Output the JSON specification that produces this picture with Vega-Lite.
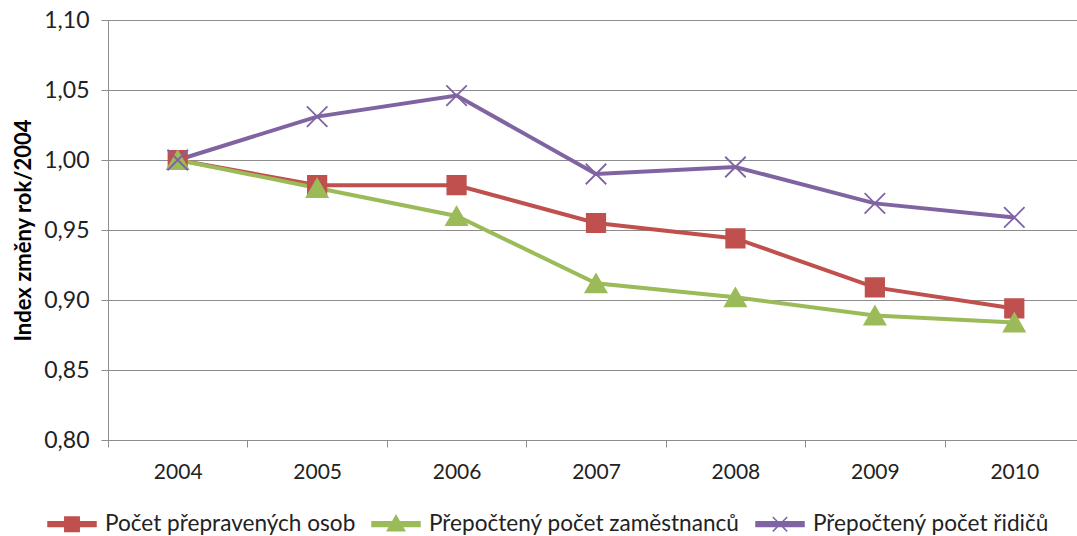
{
  "$schema": "https://vega.github.io/schema/vega-lite/v6.json",
  "autosize": {"type": "none"},
  "padding": {"left": 108, "top": 20, "right": 0, "bottom": 96},
  "width": 976,
  "height": 420,
  "background": "white",
  "config": {
    "font": "Lato",
    "view": {"stroke": null},
    "axis": {"labelFont": "Lato", "titleFont": "Lato", "labelColor": "#222222", "titleColor": "#000000"}
  },
  "data": {
    "values": [
      {"rok": "2004", "serie": "Počet přepravených osob", "index": 1.000},
      {"rok": "2005", "serie": "Počet přepravených osob", "index": 0.982},
      {"rok": "2006", "serie": "Počet přepravených osob", "index": 0.982},
      {"rok": "2007", "serie": "Počet přepravených osob", "index": 0.955},
      {"rok": "2008", "serie": "Počet přepravených osob", "index": 0.944},
      {"rok": "2009", "serie": "Počet přepravených osob", "index": 0.909},
      {"rok": "2010", "serie": "Počet přepravených osob", "index": 0.894},
      {"rok": "2004", "serie": "Přepočtený počet zaměstnanců", "index": 1.000},
      {"rok": "2005", "serie": "Přepočtený počet zaměstnanců", "index": 0.980},
      {"rok": "2006", "serie": "Přepočtený počet zaměstnanců", "index": 0.960},
      {"rok": "2007", "serie": "Přepočtený počet zaměstnanců", "index": 0.912},
      {"rok": "2008", "serie": "Přepočtený počet zaměstnanců", "index": 0.902},
      {"rok": "2009", "serie": "Přepočtený počet zaměstnanců", "index": 0.889},
      {"rok": "2010", "serie": "Přepočtený počet zaměstnanců", "index": 0.884},
      {"rok": "2004", "serie": "Přepočtený počet řidičů", "index": 1.000},
      {"rok": "2005", "serie": "Přepočtený počet řidičů", "index": 1.031},
      {"rok": "2006", "serie": "Přepočtený počet řidičů", "index": 1.046},
      {"rok": "2007", "serie": "Přepočtený počet řidičů", "index": 0.990},
      {"rok": "2008", "serie": "Přepočtený počet řidičů", "index": 0.995},
      {"rok": "2009", "serie": "Přepočtený počet řidičů", "index": 0.969},
      {"rok": "2010", "serie": "Přepočtený počet řidičů", "index": 0.959}
    ]
  },
  "encoding": {
    "x": {
      "field": "rok", "type": "nominal",
      "scale": {"type": "band", "paddingInner": 0, "paddingOuter": 0},
      "axis": {"title": null, "labelAngle": 0, "labelFontSize": 21, "labelPadding": 14, "tickBand": "extent", "tickSize": 7, "tickColor": "#8C8C8C", "domainColor": "#8C8C8C", "grid": false}
    },
    "y": {
      "field": "index", "type": "quantitative",
      "scale": {"domain": [0.8, 1.1], "zero": false, "nice": false},
      "axis": {
        "title": "Index změny rok/2004", "titleFontSize": 22, "titleFontWeight": "bold", "titlePadding": 8,
        "values": [0.8, 0.85, 0.9, 0.95, 1.0, 1.05, 1.1],
        "labelExpr": "replace(format(datum.value, '.2f'), '.', ',')",
        "labelFontSize": 23, "labelPadding": 12, "tickSize": 7, "tickColor": "#8C8C8C",
        "domainColor": "#8C8C8C", "grid": true, "gridColor": "#8C8C8C", "gridWidth": 1
      }
    }
  },
  "layer": [
    {
      "mark": {"type": "line", "strokeWidth": 4},
      "encoding": {
        "color": {
          "field": "serie", "type": "nominal",
          "scale": {"domain": ["Počet přepravených osob", "Přepočtený počet zaměstnanců", "Přepočtený počet řidičů"], "range": ["#C0504D", "#9BBB59", "#8064A2"]},
          "legend": {
            "title": null, "orient": "none", "direction": "horizontal", "legendX": -61, "legendY": 479,
            "symbolSize": 2304, "labelFontSize": 22.6, "labelColor": "#222222", "labelOffset": 8, "columnPadding": 13, "labelLimit": 400,
            "encode": {
              "symbols": {
                "update": {
                  "shape": {"signal": "datum.value == 'Počet přepravených osob' ? 'M-1,-0.1H1V0.1H-1Z M-0.3,-0.3H0.3V0.3H-0.3Z' : (datum.value == 'Přepočtený počet zaměstnanců' ? 'M-1,-0.1H1V0.1H-1Z M0,-0.36L0.36,0.27L-0.36,0.27Z' : 'M-1,-0.1H1V0.1H-1Z M-0.3,-0.3L0.3,0.3M0.3,-0.3L-0.3,0.3')"},
                  "fill": {"scale": "color", "field": "value"},
                  "stroke": {"scale": "color", "field": "value"},
                  "strokeWidth": {"value": 1.5},
                  "opacity": {"value": 1}
                }
              }
            }
          }
        }
      }
    },
    {
      "transform": [{"filter": "datum.serie == 'Počet přepravených osob'"}],
      "mark": {"type": "point", "shape": "square", "size": 350, "filled": true, "opacity": 1, "fill": "#C0504D", "stroke": "#C0504D", "strokeWidth": 1.5}
    },
    {
      "transform": [{"filter": "datum.serie == 'Přepočtený počet zaměstnanců'"}],
      "mark": {"type": "point", "shape": "triangle-up", "size": 460, "filled": true, "opacity": 1, "fill": "#9BBB59", "stroke": "#9BBB59", "strokeWidth": 1.5}
    },
    {
      "transform": [{"filter": "datum.serie == 'Přepočtený počet řidičů'"}],
      "mark": {"type": "point", "shape": "M-1,-1L1,1M1,-1L-1,1", "size": 420, "filled": false, "opacity": 1, "stroke": "#8064A2", "strokeWidth": 1.8}
    }
  ]
}
